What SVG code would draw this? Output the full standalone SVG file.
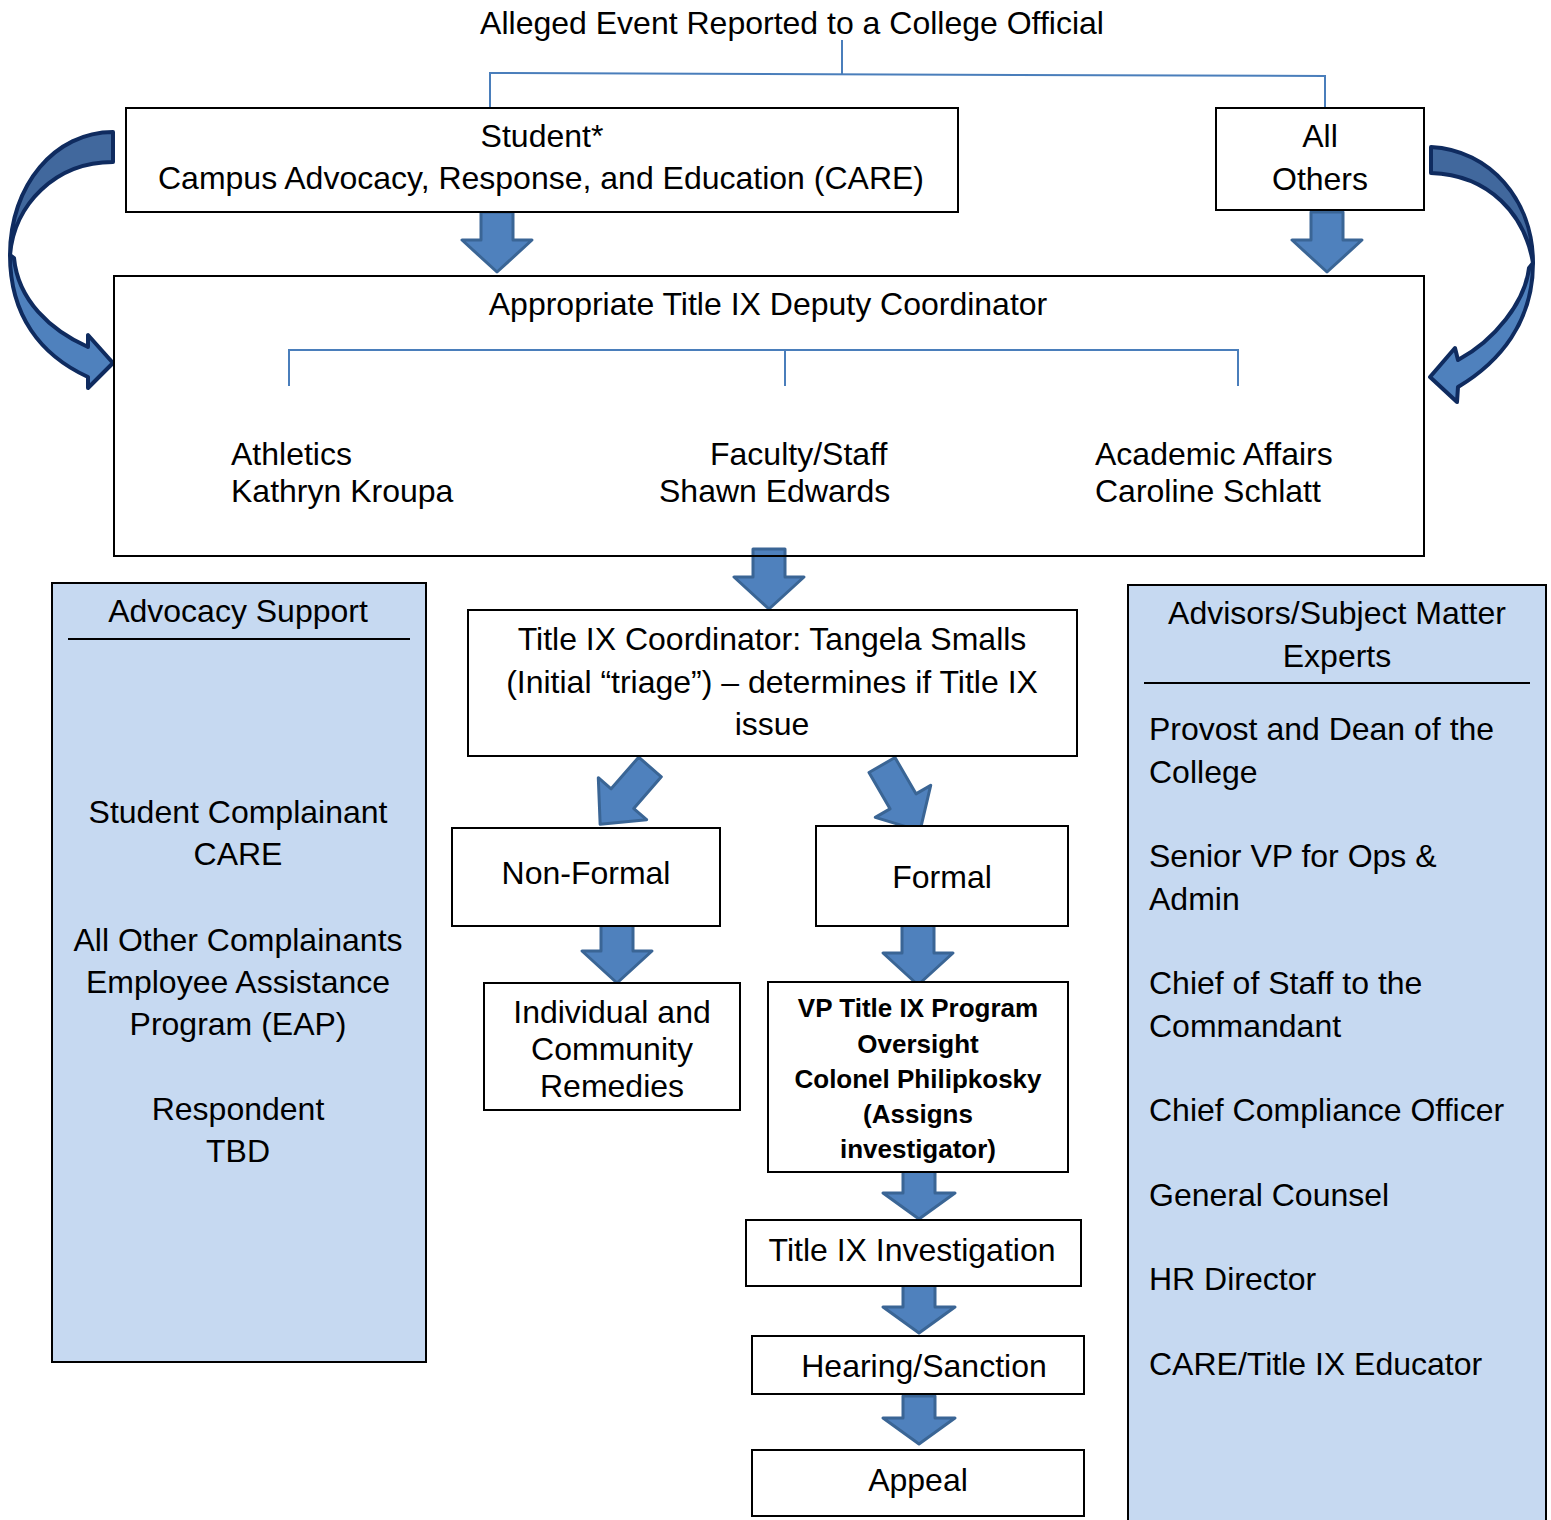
<svg xmlns="http://www.w3.org/2000/svg" width="1551" height="1520" viewBox="0 0 1551 1520">
<style>
text{font-family:"Liberation Sans",Arial,sans-serif;font-size:32px;fill:#000}
.c{text-anchor:middle}
.b{font-weight:bold;font-size:26px}
.box{fill:#fff;stroke:#000;stroke-width:2}
.panel{fill:#c6d9f1;stroke:#000;stroke-width:2}
.ln{fill:none;stroke:#4a7ebb;stroke-width:2}
.blk{fill:#4f81bd;stroke:#3a6595;stroke-width:3;stroke-linejoin:round}
.cu1{fill:#41689d;stroke:#0f2b5f;stroke-width:4;stroke-linejoin:round}
.cu2{fill:#4f81bd;stroke:#0f2b5f;stroke-width:4;stroke-linejoin:round}
</style>
<defs>
<polygon id="dn" class="blk" points="-16,0 16,0 16,28 35,28 0,60 -35,28 -16,28"/>
<polygon id="dn2" class="blk" points="-16,0 16,0 16,22 36,22 0,48 -36,22 -16,22"/>
<polygon id="dg" class="blk" points="-15,0 15,0 15,42 32,42 0,76 -32,42 -15,42"/>
</defs>

<g id="title"><text class="c" x="792" y="34">Alleged Event Reported to a College Official</text></g>

<g id="connectors">
<path class="ln" d="M842,40 V74 M490,107 V73 L1325,76 V107"/>
<path class="ln" d="M289,386 V350 H1238 V386 M785,350 V386"/>
<use href="#dn" x="497" y="212"/>
<use href="#dn" x="1327" y="212"/>
<use href="#dn" x="769" y="549"/>
<use href="#dn" x="617" y="923"/>
<use href="#dn" x="918" y="925"/>
<use href="#dn2" x="919" y="1171"/>
<use href="#dn2" x="919" y="1285"/>
<use href="#dn2" x="919" y="1396"/>
<use href="#dg" transform="translate(650,767) rotate(41)"/>
<use href="#dg" transform="translate(882,765) rotate(-30)"/>
<path class="cu1" d="M113,132 C55,132 10,185 10,255 C14,205 55,162 113,162 Z"/>
<path class="cu2" d="M10,255 C10,315 40,355 88,377 L88,388 L113,363 L88,335 L88,347 C50,330 18,300 14,258 Z"/>
<path class="cu1" d="M1431,147 C1490,150 1533,200 1533,263 C1525,215 1490,175 1431,173 Z"/>
<path class="cu2" d="M1533,263 C1533,322 1500,362 1458,387 L1457,402 L1430,377 L1455,348 L1458,360 C1495,340 1525,302 1529,268 Z"/>
</g>

<g id="student">
<rect class="box" x="126" y="108" width="832" height="104"/>
<text class="c" x="542" y="147">Student*</text>
<text class="c" x="541" y="189">Campus Advocacy, Response, and Education (CARE)</text>
</g>

<g id="all-others">
<rect class="box" x="1216" y="108" width="208" height="102"/>
<text class="c" x="1320" y="147">All</text>
<text class="c" x="1320" y="190">Others</text>
</g>

<g id="deputy">
<rect class="box" x="114" y="276" width="1310" height="280" style="fill:none"/>
<text class="c" x="768" y="315">Appropriate Title IX Deputy Coordinator</text>
<text x="231" y="465">Athletics</text>
<text x="231" y="502">Kathryn Kroupa</text>
<text x="710" y="465">Faculty/Staff</text>
<text x="659" y="502">Shawn Edwards</text>
<text x="1095" y="465">Academic Affairs</text>
<text x="1095" y="502">Caroline Schlatt</text>
</g>

<g id="advocacy">
<rect class="panel" x="52" y="583" width="374" height="779"/>
<text class="c" x="238" y="622">Advocacy Support</text>
<line x1="68" y1="639" x2="410" y2="639" stroke="#000" stroke-width="2"/>
<text class="c" x="238" y="823">Student Complainant</text>
<text class="c" x="238" y="865">CARE</text>
<text class="c" x="238" y="951">All Other Complainants</text>
<text class="c" x="238" y="993">Employee Assistance</text>
<text class="c" x="238" y="1035">Program (EAP)</text>
<text class="c" x="238" y="1120">Respondent</text>
<text class="c" x="238" y="1162">TBD</text>
</g>

<g id="advisors">
<rect class="panel" x="1128" y="585" width="418" height="945"/>
<text class="c" x="1337" y="624">Advisors/Subject Matter</text>
<text class="c" x="1337" y="667">Experts</text>
<line x1="1144" y1="683" x2="1530" y2="683" stroke="#000" stroke-width="2"/>
<text x="1149" y="740">Provost and Dean of the</text>
<text x="1149" y="783">College</text>
<text x="1149" y="867">Senior VP for Ops &amp;</text>
<text x="1149" y="910">Admin</text>
<text x="1149" y="994">Chief of Staff to the</text>
<text x="1149" y="1037">Commandant</text>
<text x="1149" y="1121">Chief Compliance Officer</text>
<text x="1149" y="1206">General Counsel</text>
<text x="1149" y="1290">HR Director</text>
<text x="1149" y="1375">CARE/Title IX Educator</text>
</g>

<g id="coordinator">
<rect class="box" x="468" y="610" width="609" height="146"/>
<text class="c" x="772" y="650">Title IX Coordinator: Tangela Smalls</text>
<text class="c" x="772" y="693">(Initial “triage”) – determines if Title IX</text>
<text class="c" x="772" y="735">issue</text>
</g>

<g id="non-formal">
<rect class="box" x="452" y="828" width="268" height="98"/>
<text class="c" x="586" y="884">Non-Formal</text>
</g>

<g id="formal">
<rect class="box" x="816" y="826" width="252" height="100"/>
<text class="c" x="942" y="888">Formal</text>
</g>

<g id="remedies">
<rect class="box" x="484" y="983" width="256" height="127"/>
<text class="c" x="612" y="1023">Individual and</text>
<text class="c" x="612" y="1060">Community</text>
<text class="c" x="612" y="1097">Remedies</text>
</g>

<g id="vp">
<rect class="box" x="768" y="982" width="300" height="190"/>
<text class="c b" x="918" y="1017">VP Title IX Program</text>
<text class="c b" x="918" y="1053">Oversight</text>
<text class="c b" x="918" y="1088">Colonel Philipkosky</text>
<text class="c b" x="918" y="1123">(Assigns</text>
<text class="c b" x="918" y="1158">investigator)</text>
</g>

<g id="investigation">
<rect class="box" x="746" y="1220" width="335" height="66"/>
<text class="c" x="912" y="1261">Title IX Investigation</text>
</g>

<g id="hearing">
<rect class="box" x="752" y="1336" width="332" height="58"/>
<text class="c" x="924" y="1377">Hearing/Sanction</text>
</g>

<g id="appeal">
<rect class="box" x="752" y="1450" width="332" height="66"/>
<text class="c" x="918" y="1491">Appeal</text>
</g>
</svg>
